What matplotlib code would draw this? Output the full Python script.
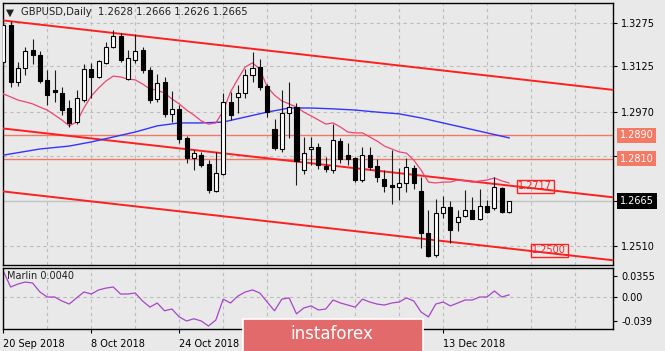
import matplotlib
matplotlib.use('Agg')
import matplotlib.pyplot as plt
from matplotlib.patches import Rectangle
import numpy as np

# DATA (GBPUSD daily)
opens = [1.3140, 1.3267, 1.3072, 1.3120, 1.3181, 1.3164, 1.3079, 1.3045, 1.3034, 1.2983,
         1.2935, 1.3010, 1.3116, 1.3089, 1.3137, 1.3191, 1.3229, 1.3082, 1.3147, 1.3181,
         1.3113, 1.3014, 1.3072, 1.2962, 1.2980, 1.2881, 1.2812, 1.2823, 1.2792, 1.2700,
         1.2758, 1.3004, 1.3020, 1.3034, 1.3096, 1.3123, 1.3058, 1.2911, 1.2843, 1.2966,
         1.2986, 1.2771, 1.2843, 1.2850, 1.2785, 1.2771, 1.2870, 1.2823, 1.2812, 1.2737,
         1.2823, 1.2785, 1.2740, 1.2720, 1.2713, 1.2727, 1.2778, 1.2700, 1.2556, 1.2481,
         1.2624, 1.2645, 1.2594, 1.2614, 1.2635, 1.2604, 1.2648, 1.2642, 1.2710, 1.2628]
highs = [1.3284, 1.3280, 1.3140, 1.3191, 1.3219, 1.3178, 1.3113, 1.3113, 1.3055, 1.3010,
         1.3045, 1.3133, 1.3137, 1.3147, 1.3208, 1.3249, 1.3239, 1.3181, 1.3236, 1.3191,
         1.3123, 1.3099, 1.3089, 1.3041, 1.2993, 1.2888, 1.2840, 1.2833, 1.2805, 1.2833,
         1.3034, 1.3038, 1.3062, 1.3116, 1.3174, 1.3150, 1.3065, 1.2945, 1.3045, 1.3072,
         1.3000, 1.2884, 1.2884, 1.2864, 1.2816, 1.2928, 1.2881, 1.2864, 1.2816, 1.2850,
         1.2850, 1.2809, 1.2771, 1.2840, 1.2778, 1.2812, 1.2788, 1.2747, 1.2635, 1.2672,
         1.2682, 1.2665, 1.2635, 1.2703, 1.2679, 1.2706, 1.2669, 1.2747, 1.2713, 1.2666]
lows = [1.3126, 1.3055, 1.3058, 1.3096, 1.3133, 1.3068, 1.2993, 1.3004, 1.2959, 1.2918,
        1.2928, 1.3004, 1.3017, 1.3086, 1.3133, 1.3188, 1.3140, 1.3079, 1.3137, 1.3103,
        1.3000, 1.3004, 1.2952, 1.2935, 1.2864, 1.2795, 1.2771, 1.2781, 1.2693, 1.2696,
        1.2754, 1.2942, 1.2966, 1.3017, 1.3072, 1.3045, 1.2952, 1.2839, 1.2833, 1.2881,
        1.2720, 1.2758, 1.2788, 1.2775, 1.2764, 1.2761, 1.2795, 1.2788, 1.2730, 1.2730,
        1.2771, 1.2730, 1.2696, 1.2655, 1.2669, 1.2696, 1.2706, 1.2505, 1.2474, 1.2474,
        1.2607, 1.2522, 1.2563, 1.2611, 1.2604, 1.2601, 1.2624, 1.2635, 1.2626, 1.2626]
closes = [1.3267, 1.3072, 1.3120, 1.3178, 1.3164, 1.3075, 1.3027, 1.3038, 1.2976, 1.2932,
          1.3017, 1.3116, 1.3089, 1.3144, 1.3191, 1.3229, 1.3147, 1.3154, 1.3178, 1.3113,
          1.3010, 1.3068, 1.2962, 1.2980, 1.2877, 1.2812, 1.2829, 1.2788, 1.2703, 1.2761,
          1.3004, 1.2959, 1.3034, 1.3096, 1.3120, 1.3055, 1.2969, 1.2846, 1.2966, 1.2986,
          1.2802, 1.2829, 1.2850, 1.2788, 1.2775, 1.2874, 1.2809, 1.2809, 1.2737, 1.2823,
          1.2781, 1.2747, 1.2717, 1.2713, 1.2727, 1.2781, 1.2727, 1.2556, 1.2477, 1.2624,
          1.2645, 1.2566, 1.2611, 1.2635, 1.2604, 1.2648, 1.2628, 1.2713, 1.2628, 1.2665]

# fast moving average (pink), one value per bar
ma_fast = [1.3031, 1.3021, 1.3010, 1.3004, 1.2997, 1.2986, 1.2976, 1.2959, 1.2942, 1.2922,
           1.2935, 1.2983, 1.3024, 1.3051, 1.3075, 1.3092, 1.3089, 1.3082, 1.3079, 1.3065,
           1.3048, 1.3044, 1.3034, 1.3014, 1.2997, 1.2976, 1.2959, 1.2939, 1.2928, 1.2932,
           1.2973, 1.3038, 1.3082, 1.3123, 1.3137, 1.3116, 1.3055, 1.3027, 1.3007, 1.2997,
           1.2986, 1.2969, 1.2956, 1.2942, 1.2928, 1.2932, 1.2918, 1.2901, 1.2898, 1.2898,
           1.2884, 1.2870, 1.2853, 1.2843, 1.2833, 1.2829, 1.2805, 1.2771, 1.2730, 1.2727,
           1.2730, 1.2730, 1.2737, 1.2734, 1.2730, 1.2734, 1.2737, 1.2744, 1.2734, 1.2727]

# slow moving average (blue), read every third bar
ma_slow_bars = [0, 5, 9, 12, 15, 18, 21, 24, 27, 30, 33, 36, 39, 42, 45, 48, 51, 54, 57, 60, 63, 66, 69]
ma_slow = [1.2822, 1.2843, 1.2853, 1.2867, 1.2884, 1.2901, 1.2922, 1.2932, 1.2932, 1.2935,
           1.2952, 1.2969, 1.2983, 1.2983, 1.2980, 1.2976, 1.2969, 1.2963, 1.2949, 1.2932,
           1.2915, 1.2898, 1.2881]

# Marlin oscillator
marlin = [0.0429, 0.0168, 0.0217, 0.0249, 0.0233, 0.0086, 0.0005, 0.0005, -0.0060, -0.0110,
          -0.0010, 0.0086, 0.0054, 0.0120, 0.0150, 0.0168, 0.0054, 0.0054, 0.0070, -0.0060,
          -0.0160, -0.0093, -0.0220, -0.0190, -0.0320, -0.0386, -0.0350, -0.0386, -0.0468, -0.0370,
          -0.0030, -0.0093, 0.0020, 0.0086, 0.0120, 0.0070, -0.0077, -0.0220, -0.0030, -0.0010,
          -0.0270, -0.0174, -0.0140, -0.0207, -0.0190, -0.0044, -0.0093, -0.0126, -0.0160, -0.0030,
          -0.0077, -0.0110, -0.0126, -0.0093, -0.0077, -0.0010, -0.0060, -0.0240, -0.0320, -0.0110,
          -0.0077, -0.0140, -0.0093, -0.0044, -0.0044, 0.0005, 0.0005, 0.0103, 0.0005, 0.0040]

# trend channel: (bar, price) anchor pairs
channel_bars = [0, 80]
channel_top = [1.3282, 1.3054]
channel_mid = [1.2913, 1.2687]
channel_low = [1.2698, 1.2472]

levels = [1.2890, 1.2810]
last_price = 1.2665

# 1.2820 sits under the 1.2810 level box, so its label is not shown
price_ticks = [1.3275, 1.3125, 1.2970, 1.2820, 1.2665, 1.2510]
price_ticklabels = ['1.3275', '1.3125', '1.2970', '', '1.2665', '1.2510']
osc_ticks = [0.0355, 0.0, -0.039]
osc_ticklabels = ['0.0355', '0.00', '-0.039']
# labels for bars 36 and 48 are hidden behind the logo
date_bars = [0, 12, 24, 36, 48, 60]
date_labels = ['20 Sep 2018', '8 Oct 2018', '24 Oct 2018', '', '', '13 Dec 2018']

BG = '#e9e9e9'
GRID = '#bdbdbd'
plt.rcParams['font.family'] = ['DejaVu Sans']
plt.rcParams['font.size'] = 7

fig = plt.figure(figsize=(6.65, 3.51), dpi=100, facecolor=BG)
ax = fig.add_axes([3/665, 1-265/351, 610/665, 262/351], facecolor=BG)
ax2 = fig.add_axes([3/665, 1-329/351, 610/665, 61/351], facecolor=BG)

n = len(closes)
x = np.arange(n)
XLIM = (-0.04, 83.18)

def style_axes(a):
    for s in a.spines.values():
        s.set_color('black')
        s.set_linewidth(1)
    a.set_xlim(*XLIM)
    a.yaxis.tick_right()
    a.tick_params(axis='y', direction='out', length=3, width=0.8, pad=3, labelsize=7, colors='black')
    for gx in range(0, 84, 6):
        a.axvline(gx, color=GRID, lw=0.8, ls=(0, (3, 3)), zorder=0)

# MAIN PANEL
style_axes(ax)
ax.set_ylim(1.24468, 1.33416)
ax.set_yticks(price_ticks)
ax.set_yticklabels(price_ticklabels)
ax.set_xticks([])
for p in price_ticks:
    ax.axhline(p, color=GRID, lw=0.8, ls=(0, (3, 3)), zorder=0)

ax.axhline(last_price, color='#c4c4c4', lw=1, zorder=1)
for lv in levels:
    ax.axhline(lv, color='#f07868', lw=1, zorder=2)

# channel lines (rays)
xx = np.array(channel_bars, dtype=float)
for ch in (channel_top, channel_mid, channel_low):
    slope = (ch[1]-ch[0])/(xx[1]-xx[0])
    ax.plot([XLIM[0], XLIM[1]], [ch[0]+slope*(XLIM[0]-xx[0]), ch[0]+slope*(XLIM[1]-xx[0])],
            color='#ff1f1f', lw=1.4, zorder=3)

ax.plot(ma_slow_bars, ma_slow, color='#3434ff', lw=1, zorder=4)
ax.plot(x, ma_fast, color='#ec4672', lw=0.9, zorder=4)

# candles
o = np.array(opens); c = np.array(closes)
ax.vlines(x, lows, highs, color='#1a1a1a', lw=0.8, zorder=5)
up = c >= o
body = np.maximum(np.abs(c-o), 0.00008)
bottom = np.minimum(o, c)
ax.bar(x[up], body[up], bottom=bottom[up], width=0.55, color='white',
       edgecolor='black', linewidth=0.8, zorder=6)
ax.bar(x[~up], body[~up], bottom=bottom[~up], width=0.55, color='black',
       edgecolor='black', linewidth=0.8, zorder=6)

# channel price labels
ax.text(72.6, 1.2715, '1.2717', color='#ff2020', fontsize=7, ha='center', va='center', zorder=7,
        bbox=dict(boxstyle='square,pad=0.15', fc='none', ec='#ff2020', lw=1))
ax.text(74.5, 1.2497, '1.2500', color='#ff2020', fontsize=7, ha='center', va='center', zorder=7,
        bbox=dict(boxstyle='square,pad=0.15', fc='none', ec='#ff2020', lw=1))

# right axis boxes
ytr = ax.get_yaxis_transform()
for lv, txt in zip(levels, ['1.2890', '1.2810']):
    ax.text(1.0115, lv, txt, transform=ytr, color='white', fontsize=7, ha='left', va='center',
            clip_on=False, zorder=10,
            bbox=dict(boxstyle='square,pad=0.28', fc='#f47a66', ec='none'))
ax.text(1.0115, last_price, '1.2665', transform=ytr, color='white', fontsize=7, ha='left', va='center',
        clip_on=False, zorder=10, bbox=dict(boxstyle='square,pad=0.28', fc='black', ec='none'))

ax.text(0.005, 0.964, '\u25bc', transform=ax.transAxes, fontsize=7.5, color='#202020', va='center')
ax.text(0.029, 0.964, 'GBPUSD,Daily  1.2628 1.2666 1.2626 1.2665', transform=ax.transAxes,
        fontsize=7.2, color='#202020', va='center')

# OSCILLATOR PANEL
style_axes(ax2)
ax2.set_ylim(-0.0517, 0.0478)
ax2.set_yticks(osc_ticks)
ax2.set_yticklabels(osc_ticklabels)
ax2.axhline(0, color=GRID, lw=0.8, ls=(0, (3, 3)), zorder=0)
ax2.plot(x, marlin, color='#a746c8', lw=0.9)
ax2.set_xticks(date_bars)
ax2.set_xticklabels(date_labels, ha='left')
ax2.tick_params(axis='x', direction='out', length=3, width=0.8, pad=4, labelsize=7, colors='black')
ax2.text(0.006, 0.87, 'Marlin 0.0040', transform=ax2.transAxes, fontsize=7, color='#202020', va='center')

# logo
fig.patches.append(Rectangle((243/665, -0.01), 180/665, 32/351+0.01, transform=fig.transFigure,
                             fc='#e36a6a', ec='white', lw=1.2, zorder=20))
fig.text(331.5/665, 1-334/351, 'instaforex', color='white', fontsize=12, ha='center', va='center', zorder=21)

fig.savefig('out.png', dpi=100, facecolor=BG)
